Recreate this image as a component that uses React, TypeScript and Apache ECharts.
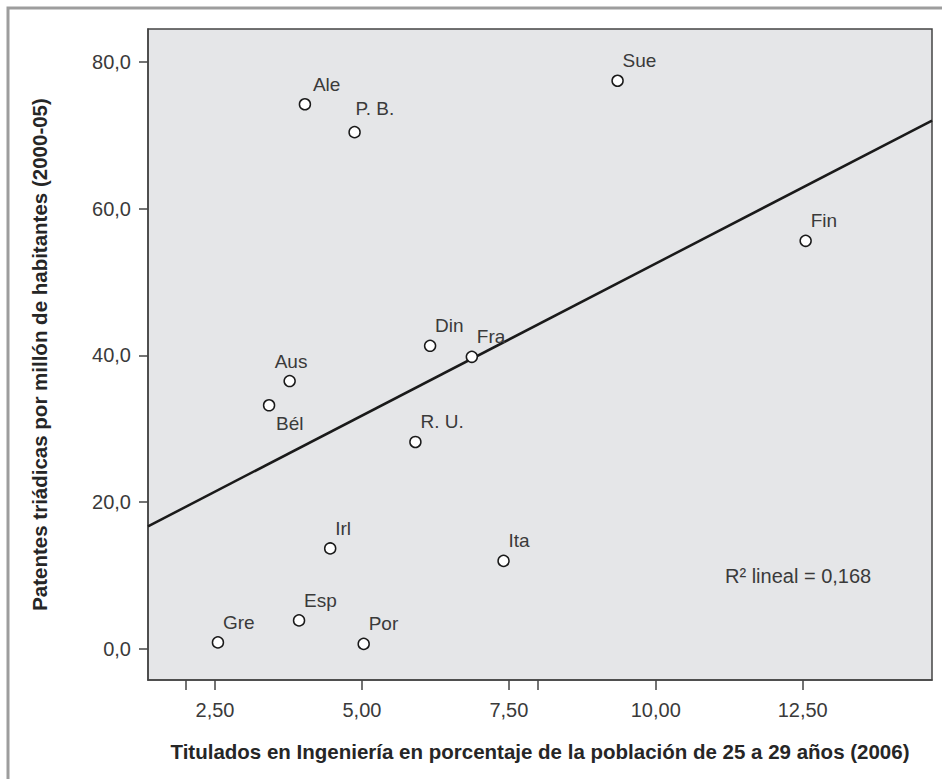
import React, { useEffect, useRef } from "react";
import * as echarts from "echarts";

const countries = ["Ale", "P. B.", "Sue", "Fin", "Din", "Fra", "Aus", "Bél", "R. U.", "Irl", "Ita", "Esp", "Gre", "Por"];
const engineeringShare = [4.03, 4.875, 9.35, 12.55, 6.16, 6.87, 3.77, 3.42, 5.91, 4.46, 7.41, 3.93, 2.55, 5.03];
const patentsPerMillion = [74.2, 70.4, 77.4, 55.6, 41.3, 39.8, 36.5, 33.2, 28.2, 13.7, 12.0, 3.9, 0.9, 0.7];
const xTickLabels = [2.5, 5, 7.5, 10, 12.5];
const xExtraTicks = [2, 8];
const yTickLabels = [0, 20, 40, 60, 80];

const X_MIN = 1.36;
const X_MAX = 14.7;
const Y_MIN = -4.22;
const Y_MAX = 84.45;

const labelOffsets: Record<string, number[]> = {
  Ale: [8, -20],
  "P. B.": [1, -24],
  Aus: [-15, -20],
  "Bél": [7, 18],
};

const FONT = "'Liberation Sans', Arial, Helvetica, sans-serif";

function fit(xs: number[], ys: number[]) {
  const n = xs.length;
  const mx = xs.reduce((a, b) => a + b, 0) / n;
  const my = ys.reduce((a, b) => a + b, 0) / n;
  let sxx = 0, sxy = 0, syy = 0;
  for (let i = 0; i < n; i++) {
    const dx = xs[i] - mx;
    const dy = ys[i] - my;
    sxx += dx * dx;
    sxy += dx * dy;
    syy += dy * dy;
  }
  const slope = sxy / sxx;
  const intercept = my - slope * mx;
  const r2 = (sxy * sxy) / (sxx * syy);
  return { slope, intercept, r2 };
}

export default function App() {
  const ref = useRef<HTMLDivElement>(null);

  useEffect(() => {
    if (!ref.current) return;
    const chart = echarts.init(ref.current, null, { renderer: "svg" });
    const { slope, intercept, r2 } = fit(engineeringShare, patentsPerMillion);

    const points = countries.map((c, i) => {
      const off = labelOffsets[c] || [5, -20];
      return {
        name: c,
        value: [engineeringShare[i], patentsPerMillion[i]],
        label: { offset: off },
      };
    });

    const option: any = {
      animation: false,
      backgroundColor: "#ffffff",
      grid: {
        left: 148,
        top: 29,
        right: 10,
        bottom: 99,
        show: true,
        backgroundColor: "#e5e6e8",
        borderColor: "#444444",
        borderWidth: 1.5,
      },
      graphic: [
        {
          type: "rect",
          shape: { x: 8, y: 8, width: 1200, height: 1200 },
          style: { fill: "none", stroke: "#9d9d9d", lineWidth: 3 },
          z: -10,
          silent: true,
        },
        {
          type: "text",
          left: 725,
          top: 566,
          style: {
            text: "R² lineal = " + r2.toFixed(3).replace(".", ","),
            fontSize: 20,
            fontFamily: FONT,
            fill: "#3a3a3a",
          },
          z: 100,
        },
      ],
      xAxis: {
        type: "value",
        min: X_MIN,
        max: X_MAX,
        name: "Titulados en Ingeniería en porcentaje de la población de 25 a 29 años (2006)",
        nameLocation: "middle",
        nameGap: 61,
        nameTextStyle: { fontSize: 20.5, fontWeight: "bold", color: "#262626", fontFamily: FONT },
        splitLine: { show: false },
        axisLine: { show: true, onZero: false, lineStyle: { color: "#444444", width: 1.5 } },
        axisTick: {
          show: true,
          inside: false,
          length: 10,
          lineStyle: { color: "#444444", width: 1.5 },
          customValues: [...xExtraTicks, ...xTickLabels].sort((a, b) => a - b),
        },
        axisLabel: {
          customValues: xTickLabels,
          margin: 20,
          fontSize: 20,
          color: "#3a3a3a",
          fontFamily: FONT,
          formatter: (v: number) => v.toFixed(2).replace(".", ","),
        },
      },
      yAxis: {
        type: "value",
        min: Y_MIN,
        max: Y_MAX,
        name: "Patentes triádicas por millón de habitantes (2000-05)",
        nameLocation: "middle",
        nameRotate: 90,
        nameGap: 98,
        nameTextStyle: { fontSize: 20.5, fontWeight: "bold", color: "#262626", fontFamily: FONT },
        splitLine: { show: false },
        axisLine: { show: true, onZero: false, lineStyle: { color: "#444444", width: 1.5 } },
        axisTick: {
          show: true,
          inside: false,
          length: 9,
          lineStyle: { color: "#444444", width: 1.5 },
          customValues: yTickLabels,
        },
        axisLabel: {
          customValues: yTickLabels,
          margin: 17,
          fontSize: 20,
          color: "#3a3a3a",
          fontFamily: FONT,
          formatter: (v: number) => v.toFixed(1).replace(".", ","),
        },
      },
      series: [
        {
          type: "line",
          data: [
            [X_MIN, intercept + slope * X_MIN],
            [X_MAX, intercept + slope * X_MAX],
          ],
          symbol: "none",
          lineStyle: { color: "#1a1a1a", width: 2.5 },
          z: 2,
          silent: true,
        },
        {
          type: "scatter",
          data: points,
          symbol: "circle",
          symbolSize: 11,
          itemStyle: { color: "#ffffff", borderColor: "#1a1a1a", borderWidth: 1.5, opacity: 1 },
          label: {
            show: true,
            position: ["50%", "50%"],
            align: "left",
            verticalAlign: "middle",
            formatter: (p: any) => p.name,
            fontSize: 19,
            color: "#3a3a3a",
            fontFamily: FONT,
          },
          z: 3,
        },
      ],
    };

    chart.setOption(option);
    return () => chart.dispose();
  }, []);

  return (
    <div
      ref={ref}
      style={{ position: "fixed", left: 0, top: 0, width: 942, height: 779 }}
    />
  );
}
